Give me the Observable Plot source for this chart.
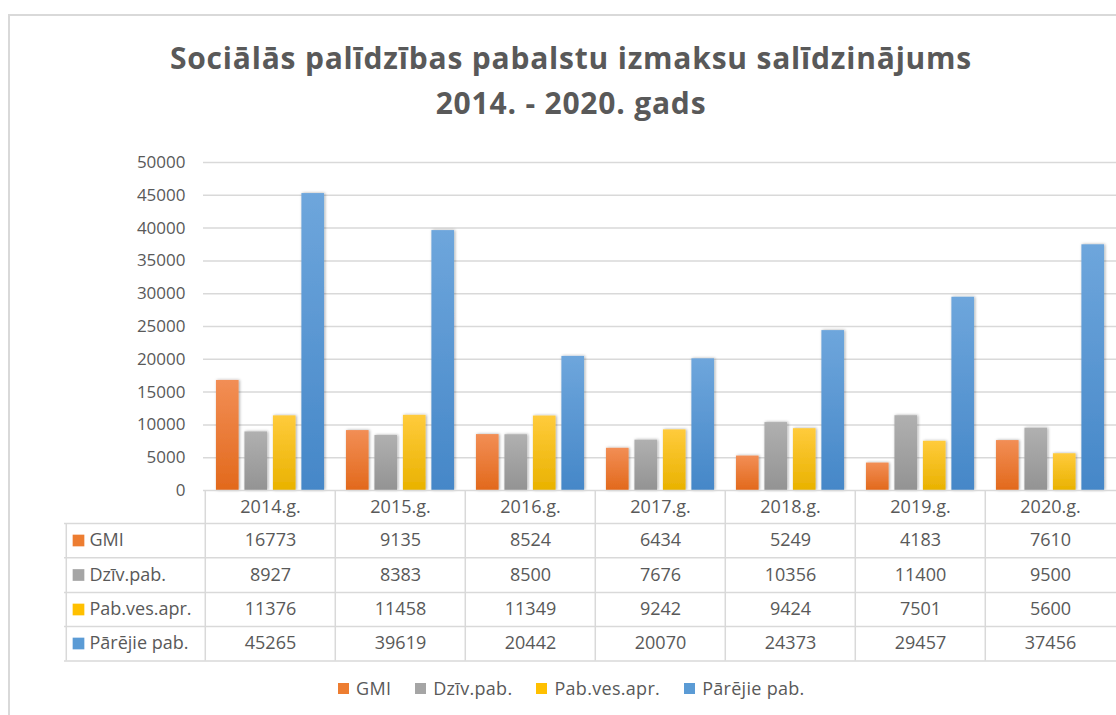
<!DOCTYPE html>
<html>
<head>
<meta charset="utf-8">
<script src="https://cdn.jsdelivr.net/npm/d3@7"></script>
<script src="https://cdn.jsdelivr.net/npm/@observablehq/plot@0.6"></script>
<style>
  html, body { margin: 0; padding: 0; background: #fff; }
  #wrap { position: relative; width: 1116px; height: 715px; overflow: hidden; font-family: "Open Sans", sans-serif; }
  #border { position: absolute; left: 8px; top: 14px; width: 1200px; height: 800px; border-top: 2px solid #d9d9d9; border-left: 2px solid #d9d9d9; }
  #title { position: absolute; left: 8px; width: 1126px; top: 35px; text-align: center; color: #595959; font-weight: 700; font-size: 30px; letter-spacing: 0.8px; line-height: 45px; }
  #chart { position: absolute; left: 0; top: 140px; }
  #legend { position: absolute; top: 676px; left: 338px; display: flex; align-items: center; color: #595959; font-size: 18px; letter-spacing: 0.3px; }
  #legend .item { display: flex; align-items: center; margin-right: 24px; }
  #legend .sw { width: 11px; height: 11px; margin-right: 7px; }
</style>
</head>
<body>
<div id="wrap">
  <div id="border"></div>
  <div id="title">Sociālās palīdzības pabalstu izmaksu salīdzinājums<br>2014. - 2020. gads</div>
  <div id="chart"></div>
  <div id="legend"></div>
</div>
<script>
const years = ["2014.g.", "2015.g.", "2016.g.", "2017.g.", "2018.g.", "2019.g.", "2020.g."];
const seriesNames = ["GMI", "Dzīv.pab.", "Pab.ves.apr.", "Pārējie pab."];
const gmi = [16773, 9135, 8524, 6434, 5249, 4183, 7610];
const dziv = [8927, 8383, 8500, 7676, 10356, 11400, 9500];
const pabVes = [11376, 11458, 11349, 9242, 9424, 7501, 5600];
const parejie = [45265, 39619, 20442, 20070, 24373, 29457, 37456];
const yTicks = [0, 5000, 10000, 15000, 20000, 25000, 30000, 35000, 40000, 45000, 50000];

const seriesValues = [gmi, dziv, pabVes, parejie];
const solid = ["#ED7D31", "#A5A5A5", "#FFC000", "#5B9BD5"];
const gradTop = ["#F28E55", "#B0B0B0", "#FFCB3C", "#6EA6DC"];
const gradBottom = ["#E2691C", "#939393", "#E9B200", "#4587C8"];

const W = 1116, ML = 203, MR = 0, MT = 22, PLOT_H = 328, MB = 175;
const bw = (W - ML - MR) / years.length;
const inner = d3.scaleBand().domain(seriesNames).range([0, bw]).paddingInner(0.19).paddingOuter(0.385);

const rowOffsets = [33, 67.3, 102, 136, 170.5]; // table line offsets below the plot bottom
const rowCenters = [50, 84.5, 119, 153];
const headerCenter = 16.5;
const tableLeftShift = ML - 64;
const grid = "#d9d9d9";
const textColor = "#595959";

const defs = () => {
  const d = d3.create("svg:defs");
  seriesNames.forEach((s, i) => {
    const g = d.append("linearGradient").attr("id", "grad" + i).attr("x1", 0).attr("y1", 0).attr("x2", 0).attr("y2", 1);
    g.append("stop").attr("offset", "0%").attr("stop-color", gradTop[i]);
    g.append("stop").attr("offset", "100%").attr("stop-color", gradBottom[i]);
  });
  const f = d.append("filter").attr("id", "shadow").attr("x", "-30%").attr("y", "-10%").attr("width", "160%").attr("height", "120%");
  f.append("feDropShadow").attr("dx", 1).attr("dy", 0).attr("stdDeviation", 1.4).attr("flood-color", "#000").attr("flood-opacity", 0.35);
  return d.node();
};

const marks = [defs];
marks.push(Plot.gridY(yTicks.filter(t => t > 0), {stroke: grid, strokeOpacity: 1, strokeWidth: 1.5}));
marks.push(Plot.axisY(yTicks, {tickSize: 0, tickPadding: 18, fontSize: 17, fill: textColor, letterSpacing: 2.5, tickFormat: d => String(d), label: null}));

// bars
seriesNames.forEach((s, i) => {
  const data = years.map((y, j) => ({year: y, value: seriesValues[i][j]}));
  const left = inner(s);
  marks.push(Plot.barY(data, {
    x: "year", y: "value", fill: `url(#grad${i})`,
    insetLeft: left, insetRight: bw - left - inner.bandwidth()
  }));
});

// table horizontal lines
marks.push(Plot.ruleY([0], {stroke: grid, strokeWidth: 1.5}));
rowOffsets.forEach(o => marks.push(Plot.ruleY([0], {dy: o, stroke: grid, strokeWidth: 1.5, insetLeft: -tableLeftShift})));
// table vertical lines at column boundaries
marks.push(Plot.ruleX(years, {x: d => d, dx: -bw / 2, stroke: grid, strokeWidth: 1.5, insetTop: PLOT_H, insetBottom: -rowOffsets[rowOffsets.length - 1]}));
marks.push(Plot.ruleX([years[0]], {x: d => d, dx: -bw / 2 - tableLeftShift, stroke: grid, strokeWidth: 1.5, insetTop: PLOT_H + rowOffsets[0], insetBottom: -rowOffsets[rowOffsets.length - 1]}));

// header
marks.push(Plot.text(years, {x: d => d, frameAnchor: "bottom", dy: headerCenter, fontSize: 18, fill: textColor, lineAnchor: "middle", letterSpacing: 0.6}));
// rows
seriesNames.forEach((s, i) => {
  const data = years.map((y, j) => ({year: y, value: seriesValues[i][j]}));
  marks.push(Plot.text(data, {x: "year", text: d => String(d.value), frameAnchor: "bottom", dy: rowCenters[i], fontSize: 18, fill: textColor, lineAnchor: "middle", letterSpacing: 0.6}));
  marks.push(Plot.text([s], {text: d => d, frameAnchor: "bottom-left", dx: 89 - ML, dy: rowCenters[i], textAnchor: "start", fontSize: 18, fill: textColor, lineAnchor: "middle", letterSpacing: 0.7}));
  marks.push(Plot.dot([s], {frameAnchor: "bottom-left", dx: 78 - ML, dy: rowCenters[i], symbol: "square", r: 6.6, fill: solid[i], stroke: "none"}));
});

const plot = Plot.plot({
  width: W,
  height: MT + PLOT_H + MB,
  marginLeft: ML, marginRight: MR, marginTop: MT, marginBottom: MB,
  style: {fontFamily: "'Open Sans', sans-serif", background: "transparent", overflow: "visible"},
  x: {domain: years, paddingInner: 0, paddingOuter: 0, axis: null},
  y: {domain: [0, 50000], axis: null},
  marks
});
d3.select(plot).selectAll('g[aria-label="bar"]').attr("filter", "url(#shadow)");
document.getElementById("chart").appendChild(plot);

const legend = d3.select("#legend");
seriesNames.forEach((s, i) => {
  const it = legend.append("div").attr("class", "item");
  it.append("div").attr("class", "sw").style("background", solid[i]);
  it.append("span").text(s);
});
</script>
</body>
</html>
